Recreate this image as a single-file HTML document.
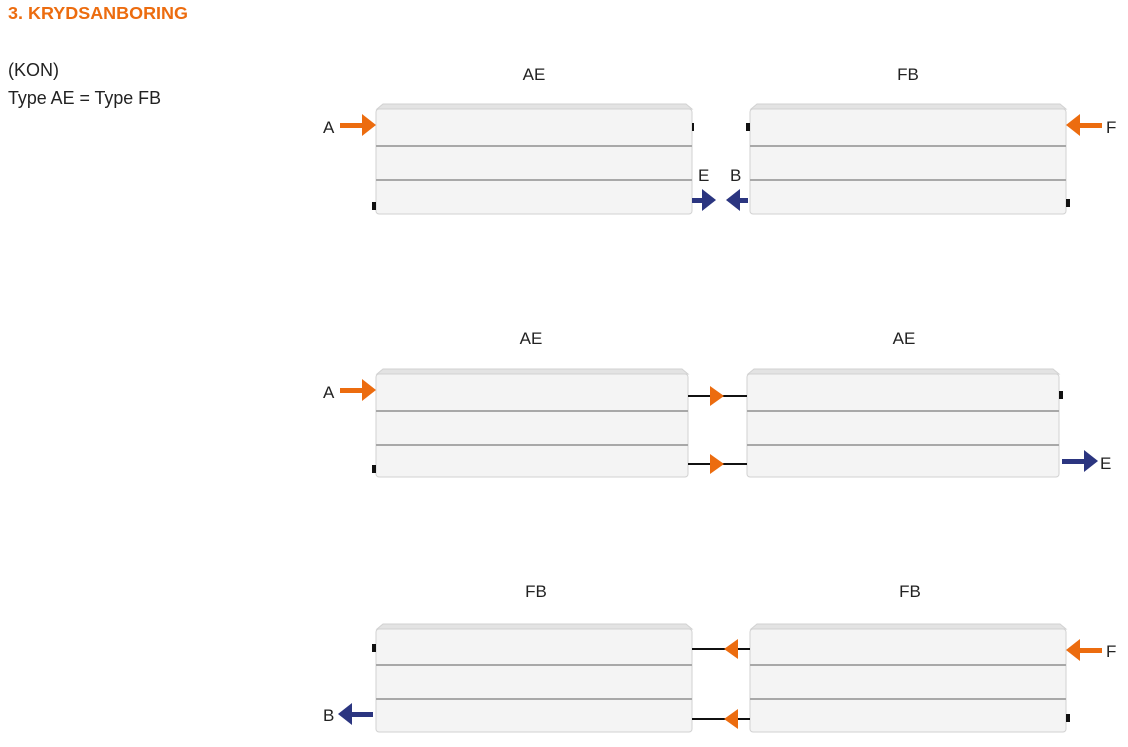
<!DOCTYPE html>
<html><head><meta charset="utf-8"><style>
html,body{margin:0;padding:0;background:#fff;width:1128px;height:747px;overflow:hidden}
svg{position:absolute;left:0;top:0}
text{font-family:"Liberation Sans",sans-serif}
</style></head><body>
<svg width="1128" height="747" viewBox="0 0 1128 747">
<text x="8" y="19" font-size="17.5" font-weight="bold" fill="#ec6c0f" textLength="180" lengthAdjust="spacingAndGlyphs">3. KRYDSANBORING</text>
<text x="8" y="76" font-size="18" fill="#222">(KON)</text>
<text x="8" y="104" font-size="18" fill="#222" textLength="153" lengthAdjust="spacingAndGlyphs">Type AE = Type FB</text>

<g font-size="17" fill="#222" text-anchor="middle">
<text x="534" y="80">AE</text><text x="908" y="80">FB</text>
<text x="531" y="344">AE</text><text x="904" y="344">AE</text>
<text x="536" y="597">FB</text><text x="910" y="597">FB</text>
</g>

<g fill="#f4f4f4" stroke="#d2d2d2" stroke-width="1">
<polygon points="377,109 383,104 686,104 692,109" fill="#e3e3e3"/>
<rect x="376" y="109" width="316" height="105" rx="3"/>
<polygon points="751,109 757,104 1060,104 1066,109" fill="#e3e3e3"/>
<rect x="750" y="109" width="316" height="105" rx="3"/>
<polygon points="377,374 383,369 682,369 688,374" fill="#e3e3e3"/>
<rect x="376" y="374" width="312" height="103" rx="3"/>
<polygon points="748,374 754,369 1053,369 1059,374" fill="#e3e3e3"/>
<rect x="747" y="374" width="312" height="103" rx="3"/>
<polygon points="377,629 383,624 686,624 692,629" fill="#e3e3e3"/>
<rect x="376" y="629" width="316" height="103" rx="3"/>
<polygon points="751,629 757,624 1060,624 1066,629" fill="#e3e3e3"/>
<rect x="750" y="629" width="316" height="103" rx="3"/>
</g>
<g stroke="#a8a8a8" stroke-width="2">
<line x1="376" y1="146" x2="692" y2="146"/><line x1="376" y1="180" x2="692" y2="180"/>
<line x1="750" y1="146" x2="1066" y2="146"/><line x1="750" y1="180" x2="1066" y2="180"/>
<line x1="376" y1="411" x2="688" y2="411"/><line x1="376" y1="445" x2="688" y2="445"/>
<line x1="747" y1="411" x2="1059" y2="411"/><line x1="747" y1="445" x2="1059" y2="445"/>
<line x1="376" y1="665" x2="692" y2="665"/><line x1="376" y1="699" x2="692" y2="699"/>
<line x1="750" y1="665" x2="1066" y2="665"/><line x1="750" y1="699" x2="1066" y2="699"/>
</g>

<g fill="#111">
<rect x="692" y="123" width="2" height="8"/>
<rect x="746" y="123" width="4" height="8"/>
<rect x="372" y="202" width="4" height="8"/>
<rect x="1066" y="199" width="4" height="8"/>
<rect x="1059" y="391" width="4" height="8"/>
<rect x="372" y="465" width="4" height="8"/>
<rect x="372" y="644" width="4" height="8"/>
<rect x="1066" y="714" width="4" height="8"/>
</g>

<g stroke="#111" stroke-width="2">
<line x1="688" y1="396" x2="747" y2="396"/><line x1="688" y1="464" x2="747" y2="464"/>
<line x1="692" y1="649" x2="750" y2="649"/><line x1="692" y1="719" x2="750" y2="719"/>
</g>
<g fill="#ec6c0f">
<polygon points="710,386 724,396 710,406"/><polygon points="710,454 724,464 710,474"/>
<polygon points="738,639 724,649 738,659"/><polygon points="738,709 724,719 738,729"/>
<rect x="340" y="123" width="24" height="5"/><polygon points="362,114 376,125 362,136"/>
<rect x="340" y="388" width="24" height="5"/><polygon points="362,379 376,390 362,401"/>
<rect x="1078" y="123" width="24" height="5"/><polygon points="1080,114 1066,125 1080,136"/>
<rect x="1078" y="648" width="24" height="5"/><polygon points="1080,639 1066,650 1080,661"/>
</g>
<g fill="#2b3580">
<rect x="692" y="198" width="12" height="5"/><polygon points="702,189 716,200 702,211"/>
<rect x="736" y="198" width="12" height="5"/><polygon points="740,189 726,200 740,211"/>
<rect x="1062" y="459" width="24" height="5"/><polygon points="1084,450 1098,461 1084,472"/>
<rect x="348" y="712" width="25" height="5"/><polygon points="352,703 338,714 352,725"/>
</g>

<g font-size="17" fill="#222">
<text x="323" y="133">A</text>
<text x="323" y="398">A</text>
<text x="1106" y="133">F</text>
<text x="1106" y="657">F</text>
<text x="698" y="181">E</text>
<text x="730" y="181">B</text>
<text x="1100" y="469">E</text>
<text x="323" y="721">B</text>
</g>
</svg>
</body></html>
